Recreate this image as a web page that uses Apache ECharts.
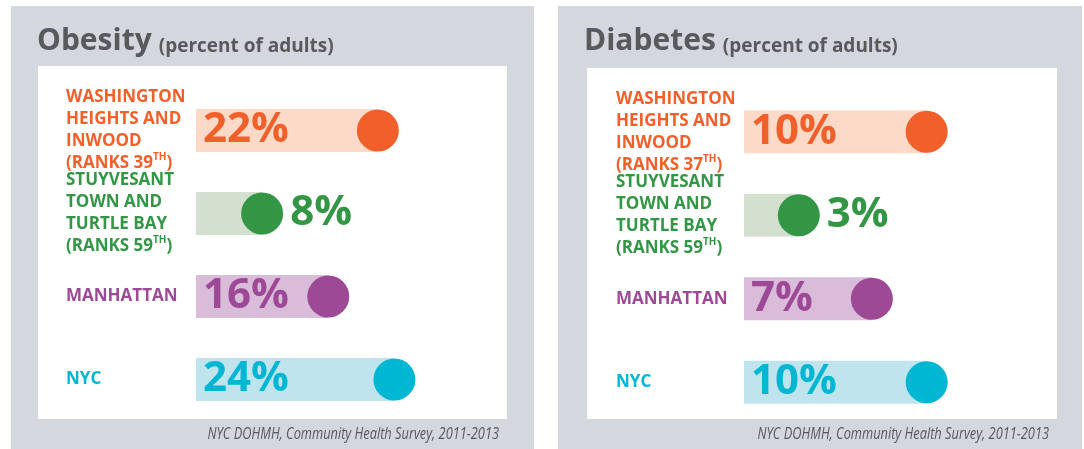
<!DOCTYPE html>
<html>
<head>
<meta charset="utf-8">
<title>Obesity and Diabetes</title>
<script src="https://cdn.jsdelivr.net/npm/echarts@6/dist/echarts.min.js"></script>
<style>
    html, body { margin: 0; padding: 0; background: #fff; }
    #chart { width: 1084px; height: 449px; }
</style>
</head>
<body>
<div id="chart"></div>
<script>
    // data
    var areaNames = ['WASHINGTON\nHEIGHTS AND\nINWOOD', 'STUYVESANT\nTOWN AND\nTURTLE BAY', 'MANHATTAN', 'NYC'];
    var obesityValues = [22, 8, 16, 24];
    var obesityRanks = [39, 59, null, null];
    var diabetesValues = [10, 3, 7, 10];
    var diabetesRanks = [37, 59, null, null];
    var titles = ['Obesity', 'Diabetes'];
    var unitText = '(percent of adults)';
    var sourceText = 'NYC DOHMH, Community Health Survey, 2011-2013';

    var areaColors = ['#f15f2a', '#329645', '#9d4996', '#00b7d3'];
    var barColors = ['#fddac7', '#d4e0cf', '#d8bcd9', '#bfe4ee'];
    var FONT = "'Open Sans', 'Noto Sans', sans-serif";
    var GREY = '#d4d7de';
    var INK = '#58595b';

    // layout of the two panels
    var panels = [
        {
            box: [11, 6, 523, 450], inner: [38, 66, 469, 353], titleX: 37,
            grid: {left: 196, top: 89, width: 248, height: 332}, max: 30, labelMargin: 130,
            values: obesityValues, ranks: obesityRanks
        },
        {
            box: [558, 6, 524, 450], inner: [587, 68, 470, 351], titleX: 584,
            grid: {left: 744, top: 90, width: 274, height: 334}, max: 15, labelMargin: 128,
            values: diabetesValues, ranks: diabetesRanks
        }
    ];

    var rich = {};
    areaColors.forEach(function (c, i) {
        rich['n' + i] = {color: c, fontFamily: FONT, fontWeight: 'bold', fontSize: 17, lineHeight: 22};
        rich['s' + i] = {color: c, fontFamily: FONT, fontWeight: 'bold', fontSize: 10, lineHeight: 16, verticalAlign: 'top'};
    });

    /**
     * 左侧地区名称（带排名）
     */
    var areaLabel = function (ranks) {
        return function (name, index) {
            var lines = name.split('\n').map(function (l) {
                return '{n' + index + '|' + l + '}';
            });
            if (ranks[index] != null) {
                lines.push('{n' + index + '|(RANKS ' + ranks[index] + '}{s' + index + '|TH}{n' + index + '|)}');
            }
            return lines.join('\n');
        };
    };

    var valueFont = {fontFamily: FONT, fontWeight: 'bold', fontSize: 42};

    var grids = [], xAxes = [], yAxes = [], series = [], graphics = [], titleList = [];

    panels.forEach(function (p, k) {
        grids.push({
            left: p.grid.left, top: p.grid.top, width: p.grid.width, height: p.grid.height,
            containLabel: false, outerBoundsMode: 'none'
        });
        xAxes.push({gridIndex: k, type: 'value', min: 0, max: p.max, show: false});
        yAxes.push({
            gridIndex: k, type: 'category', data: areaNames, inverse: true,
            axisLine: {show: false}, axisTick: {show: false}, splitLine: {show: false},
            axisLabel: {
                interval: 0, align: 'left', margin: p.labelMargin,
                formatter: areaLabel(p.ranks), rich: rich
            }
        });

        series.push({
            type: 'bar', xAxisIndex: k, yAxisIndex: k, barWidth: 43, silent: true,
            data: p.values.map(function (v, i) {
                return {
                    value: v,
                    itemStyle: {color: barColors[i]},
                    label: {show: v / p.max >= 0.3, color: areaColors[i]}
                };
            }),
            label: echarts.util.extend({position: 'insideLeft', distance: 7, formatter: '{c}%'}, valueFont)
        });
        series.push({
            type: 'scatter', xAxisIndex: k, yAxisIndex: k, symbolSize: 42, z: 3, silent: true,
            data: p.values.map(function (v, i) {
                return {
                    value: [v, i],
                    itemStyle: {color: areaColors[i], opacity: 1},
                    label: {show: v / p.max < 0.3, color: areaColors[i]}
                };
            }),
            label: echarts.util.extend({
                position: 'right', distance: 7,
                formatter: function (d) { return d.value[0] + '%'; }
            }, valueFont)
        });

        titleList.push({
            text: '{a|' + titles[k] + '}{b|' + unitText + '}',
            left: p.titleX, top: 21, padding: 0,
            textStyle: {
                rich: {
                    a: {fontFamily: FONT, fontWeight: 'bold', fontSize: 30, color: INK, lineHeight: 35, verticalAlign: 'bottom'},
                    b: {fontFamily: FONT, fontWeight: 'bold', fontSize: 19, color: INK, lineHeight: 28, verticalAlign: 'bottom', padding: [0, 0, 0, 7]}
                }
            }
        });

        graphics.push({
            type: 'rect', z: -2, silent: true,
            shape: {x: p.box[0], y: p.box[1], width: p.box[2], height: p.box[3]},
            style: {fill: GREY}
        });
        graphics.push({
            type: 'rect', z: -1, silent: true,
            shape: {x: p.inner[0], y: p.inner[1], width: p.inner[2], height: p.inner[3]},
            style: {fill: '#fff'}
        });
        // 来源说明，水平压缩模拟窄体字
        graphics.push({
            type: 'text', z: 1, silent: true,
            x: p.inner[0] + p.inner[2] - 8, y: 434, scaleX: 0.8,
            style: {
                text: sourceText, x: 0, y: 0,
                align: 'right', verticalAlign: 'middle', fill: INK,
                font: "italic 16px 'Open Sans', sans-serif"
            }
        });
    });

    var myChart = echarts.init(document.getElementById('chart'));
    myChart.setOption({
        animation: false,
        title: titleList,
        graphic: graphics,
        grid: grids,
        xAxis: xAxes,
        yAxis: yAxes,
        series: series
    });
</script>
</body>
</html>
